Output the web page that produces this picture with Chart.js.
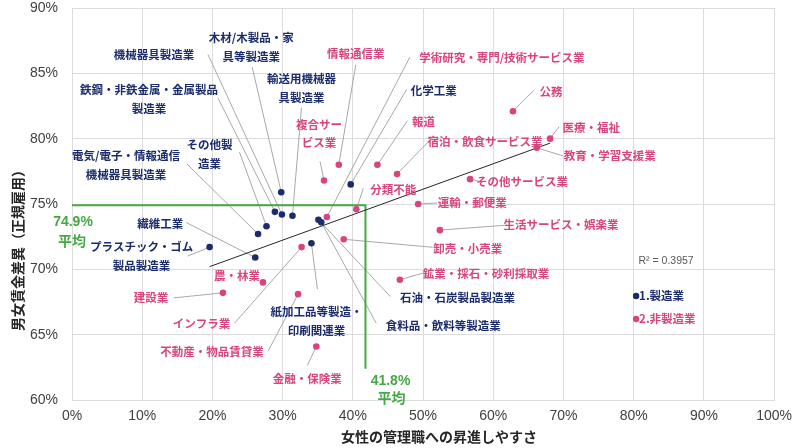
<!DOCTYPE html>
<html>
<head>
<meta charset="utf-8">
<script src="https://cdn.jsdelivr.net/npm/chart.js@4"></script>
<style>
  html, body { margin: 0; padding: 0; background: #fff; }
</style>
</head>
<body>
<canvas id="myChart" width="800" height="448"></canvas>
<script>
// 製造業
const mfgNames = [
	'木材/木製品・家具等製造業',
	'鉄鋼・非鉄金属・金属製品製造業',
	'機械器具製造業',
	'輸送用機械器具製造業',
	'その他製造業',
	'電気/電子・情報通信機械器具製造業',
	'プラスチック・ゴム製品製造業',
	'繊維工業',
	'石油・石炭製品製造業',
	'食料品・飲料等製造業',
	'紙加工品等製造・印刷関連業',
	'化学工業'
];
const mfgX = [29.8, 28.9, 29.9, 31.4, 27.7, 26.5, 19.6, 26.1, 35.1, 35.5, 34.1, 39.7];
const mfgY = [75.9, 74.4, 74.2, 74.1, 73.3, 72.7, 71.7, 70.9, 73.8, 73.6, 72.0, 76.5];

// 非製造業
const svcNames = [
	'情報通信業',
	'複合サービス業',
	'報道',
	'宿泊・飲食サービス業',
	'公務',
	'医療・福祉',
	'教育・学習支援業',
	'その他サービス業',
	'学術研究・専門/技術サービス業',
	'分類不能',
	'運輸・郵便業',
	'生活サービス・娯楽業',
	'卸売・小売業',
	'鉱業・採石・砂利採取業',
	'インフラ業',
	'農・林業',
	'建設業',
	'不動産・物品賃貸業',
	'金融・保険業'
];
const svcX = [38.0, 35.9, 43.5, 46.3, 62.8, 68.1, 66.2, 56.7, 36.3, 40.5, 49.3, 52.4, 38.7, 46.7, 32.7, 27.2, 21.5, 32.2, 34.8];
const svcY = [78.0, 76.8, 78.0, 77.3, 82.1, 80.0, 79.3, 76.9, 74.0, 74.6, 75.0, 73.0, 72.3, 69.2, 71.7, 69.0, 68.2, 68.1, 64.1];

const xTicks = [0, 10, 20, 30, 40, 50, 60, 70, 80, 90, 100];
const yTicks = [60, 65, 70, 75, 80, 85, 90];

const avgX = 41.8;
const avgY = 74.9;
const avgLineEnd = 62.4;
const rSquaredText = 'R² = 0.3957';

const NAVY = '#1b2c6c';
const PINK = '#d8457e';
const GREEN = '#45a845';
const JP = '"Noto Sans CJK JP", sans-serif';

// label placement: offsets (px) from the point, leader start offsets
const labelLayout = {
	'木材/木製品・家具等製造業': { lines: ['木材/木製品・家', '具等製造業'], dx: -30, dy: -155, lx: -29, ly: -125 },
	'鉄鋼・非鉄金属・金属製品製造業': { lines: ['鉄鋼・非鉄金属・金属製品', '製造業'], dx: -126, dy: -122, lx: -57, ly: -114 },
	'機械器具製造業': { lines: ['機械器具製造業'], dx: -128, dy: -160, lx: -74, ly: -160 },
	'輸送用機械器具製造業': { lines: ['輸送用機械器', '具製造業'], dx: 9, dy: -137, lx: 9, ly: -108 },
	'その他製造業': { lines: ['その他製', '造業'], dx: -57, dy: -82, lx: -27, ly: -74 },
	'電気/電子・情報通信機械器具製造業': { lines: ['電気/電子・情報通信', '機械器具製造業'], dx: -132, dy: -78, lx: -71, ly: -70 },
	'プラスチック・ゴム製品製造業': { lines: ['プラスチック・ゴム', '製品製造業'], dx: -68, dy: 0, lx: -22, ly: 9 },
	'繊維工業': { lines: ['繊維工業'], dx: -95, dy: -34, lx: -69, ly: -35 },
	'石油・石炭製品製造業': { lines: ['石油・石炭製品製造業'], dx: 139, dy: 78, lx: 72, ly: 77 },
	'食料品・飲料等製造業': { lines: ['食料品・飲料等製造業'], dx: 122, dy: 103, lx: 55, ly: 101 },
	'紙加工品等製造・印刷関連業': { lines: ['紙加工品等製造・', '印刷関連業'], dx: 5, dy: 68, lx: 6, ly: 46 },
	'化学工業': { lines: ['化学工業'], dx: 83, dy: -94, lx: 56, ly: -95 },
	'情報通信業': { lines: ['情報通信業'], dx: 17, dy: -111, lx: 17, ly: -100 },
	'複合サービス業': { lines: ['複合サー', 'ビス業'], dx: -5, dy: -56, lx: -4, ly: -19, lh: 18 },
	'報道': { lines: ['報道'], dx: 46, dy: -43, lx: 30, ly: -44 },
	'宿泊・飲食サービス業': { lines: ['宿泊・飲食サービス業'], dx: 88, dy: -32, lx: 32, ly: -33 },
	'公務': { lines: ['公務'], dx: 38, dy: -20, lx: 21, ly: -21 },
	'医療・福祉': { lines: ['医療・福祉'], dx: 41, dy: -11, lx: 9, ly: -12 },
	'教育・学習支援業': { lines: ['教育・学習支援業'], dx: 73, dy: 8, lx: 26, ly: 8 },
	'その他サービス業': { lines: ['その他サービス業'], dx: 52, dy: 2, lx: 9, ly: 2 },
	'学術研究・専門/技術サービス業': { lines: ['学術研究・専門/技術サービス業'], dx: 175, dy: -159, lx: 83, ly: -160 },
	'分類不能': { lines: ['分類不能'], dx: 37, dy: -20, lx: 7, ly: -21 },
	'運輸・郵便業': { lines: ['運輸・郵便業'], dx: 54, dy: -1, lx: 19, ly: -1 },
	'生活サービス・娯楽業': { lines: ['生活サービス・娯楽業'], dx: 121, dy: -6, lx: 67, ly: -5 },
	'卸売・小売業': { lines: ['卸売・小売業'], dx: 124, dy: 9, lx: 89, ly: 8 },
	'鉱業・採石・砂利採取業': { lines: ['鉱業・採石・砂利採取業'], dx: 86, dy: -6, lx: 24, ly: -7 },
	'インフラ業': { lines: ['インフラ業'], dx: -100, dy: 77, lx: -67, ly: 76 },
	'農・林業': { lines: ['農・林業'], dx: -26, dy: -7 },
	'建設業': { lines: ['建設業'], dx: -72, dy: 5, lx: -49, ly: 5 },
	'不動産・物品賃貸業': { lines: ['不動産・物品賃貸業'], dx: -86, dy: 57, lx: -30, ly: 57 },
	'金融・保険業': { lines: ['金融・保険業'], dx: -9, dy: 32, lx: -9, ly: 19 }
};

const toPoints = (xs, ys) => xs.map((x, i) => ({ x: x, y: ys[i] }));
const mfgPoints = toPoints(mfgX, mfgY);
const svcPoints = toPoints(svcX, svcY);

// linear trend over all industries
const allX = mfgX.concat(svcX);
const allY = mfgY.concat(svcY);
const n = allX.length;
const mx = allX.reduce((a, b) => a + b, 0) / n;
const my = allY.reduce((a, b) => a + b, 0) / n;
let sxy = 0, sxx = 0;
allX.forEach((x, i) => { sxy += (x - mx) * (allY[i] - my); sxx += (x - mx) * (x - mx); });
const slope = sxy / sxx;
const intercept = my - slope * mx;
const xMin = Math.min(...allX);
const xMax = Math.max(...allX);
const trendPoints = [
	{ x: xMin, y: intercept + slope * xMin },
	{ x: xMax, y: intercept + slope * xMax }
];

const avgPoints = [
	{ x: 0, y: avgY },
	{ x: avgX, y: avgY },
	{ x: avgX, y: avgLineEnd }
];

const annotate = {
	id: 'annotate',
	beforeDatasetsDraw(chart) {
		const ctx = chart.ctx;
		const xs = chart.scales.x, ys = chart.scales.y;
		ctx.save();
		ctx.strokeStyle = '#a8a8a8';
		ctx.lineWidth = 1;
		const leaders = (names, xv, yv) => {
			names.forEach((name, i) => {
				const l = labelLayout[name];
				if (!l || l.lx === undefined) return;
				const px = xs.getPixelForValue(xv[i]);
				const py = ys.getPixelForValue(yv[i]);
				ctx.beginPath();
				ctx.moveTo(px + l.lx, py + l.ly);
				ctx.lineTo(px, py);
				ctx.stroke();
			});
		};
		leaders(mfgNames, mfgX, mfgY);
		leaders(svcNames, svcX, svcY);
		ctx.restore();
	},
	afterDatasetsDraw(chart) {
		const ctx = chart.ctx;
		const xs = chart.scales.x, ys = chart.scales.y;
		const area = chart.chartArea;
		ctx.save();
		ctx.textAlign = 'center';
		ctx.textBaseline = 'middle';
		ctx.font = 'bold 11.5px ' + JP;
		const texts = (names, xv, yv, color) => {
			ctx.fillStyle = color;
			names.forEach((name, i) => {
				const l = labelLayout[name];
				const px = xs.getPixelForValue(xv[i]);
				const py = ys.getPixelForValue(yv[i]);
				const lh = l.lh || 19;
				l.lines.forEach((t, k) => ctx.fillText(t, px + l.dx, py + l.dy + k * lh));
			});
		};
		texts(mfgNames, mfgX, mfgY, NAVY);
		texts(svcNames, svcX, svcY, PINK);

		// average labels
		ctx.fillStyle = GREEN;
		ctx.font = 'bold 14px "Liberation Sans", Arial, sans-serif';
		const ay = ys.getPixelForValue(avgY);
		ctx.fillText(avgY.toFixed(1) + '%', area.left + 1, ay + 17);
		const ax = xs.getPixelForValue(avgX);
		ctx.fillText(avgX.toFixed(1) + '%', ax + 25, area.bottom - 19);
		ctx.font = 'bold 14px ' + JP;
		ctx.fillText('平均', area.left, ay + 35);
		ctx.fillText('平均', ax + 26, area.bottom - 2);

		// R squared
		ctx.fillStyle = '#595959';
		ctx.font = '10.5px "Liberation Sans", Arial, sans-serif';
		ctx.fillText(rSquaredText, area.right - 108, ys.getPixelForValue(70) - 8);

		// legend
		ctx.textAlign = 'left';
		ctx.font = 'bold 11.5px ' + JP;
		[['1.製造業', NAVY, 296], ['2.非製造業', PINK, 319]].forEach(([t, c, y]) => {
			ctx.fillStyle = c;
			ctx.beginPath();
			ctx.arc(area.right - 138, y, 3.2, 0, Math.PI * 2);
			ctx.fill();
			ctx.fillText(t, area.right - 135, y);
		});

		// axis titles
		ctx.fillStyle = '#262626';
		ctx.textAlign = 'center';
		ctx.font = 'bold 14px ' + JP;
		ctx.fillText('女性の管理職への昇進しやすさ', 439, 437);
		ctx.translate(18, 247);
		ctx.rotate(-Math.PI / 2);
		ctx.fillText('男女賃金差異（正規雇用）', 0, 0);
		ctx.restore();
	}
};

const tickFont = { family: '"Liberation Sans", Arial, sans-serif', size: 14 };

const chart = new Chart(document.getElementById('myChart').getContext('2d'), {
	type: 'scatter',
	data: {
		datasets: [
			{
				label: '1.製造業',
				data: mfgPoints,
				backgroundColor: NAVY,
				borderColor: NAVY,
				borderWidth: 0,
				pointRadius: 3.3
			},
			{
				label: '2.非製造業',
				data: svcPoints,
				backgroundColor: PINK,
				borderColor: PINK,
				borderWidth: 0,
				pointRadius: 3.3
			},
			{
				label: 'trend',
				data: trendPoints,
				showLine: true,
				borderColor: '#262626',
				borderWidth: 1,
				pointRadius: 0
			},
			{
				label: 'average',
				data: avgPoints,
				showLine: true,
				borderColor: GREEN,
				borderWidth: 2,
				pointRadius: 0
			}
		]
	},
	options: {
		responsive: false,
		animation: false,
		devicePixelRatio: 1,
		layout: { padding: { top: 0, right: 24, left: 0, bottom: 0 } },
		plugins: {
			legend: { display: false },
			tooltip: { enabled: false }
		},
		scales: {
			x: {
				type: 'linear',
				min: 0,
				max: 100,
				afterBuildTicks: s => { s.ticks = xTicks.map(v => ({ value: v })); },
				afterFit: s => { s.height = 48; },
				ticks: { callback: v => v + '%', font: tickFont, color: '#404040', padding: 8, maxRotation: 0 },
				grid: { color: '#dcdcdc', drawTicks: false },
				border: { color: '#dcdcdc' }
			},
			y: {
				type: 'linear',
				min: 60,
				max: 90,
				afterBuildTicks: s => { s.ticks = yTicks.map(v => ({ value: v })); },
				afterFit: s => { s.width = 72; s.paddingTop = 8; s.paddingBottom = 0; },
				ticks: { callback: v => v + '%', font: tickFont, color: '#404040', padding: 14 },
				grid: { color: '#dcdcdc', drawTicks: false },
				border: { color: '#dcdcdc' }
			}
		}
	},
	plugins: [annotate]
});
</script>
</body>
</html>
